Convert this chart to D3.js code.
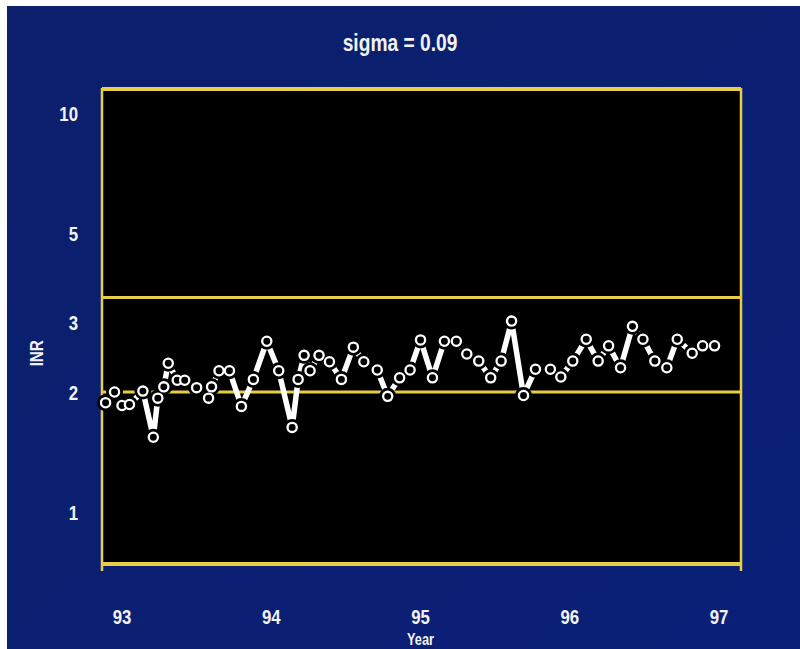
<!DOCTYPE html>
<html>
<head>
<meta charset="utf-8">
<script src="https://cdn.jsdelivr.net/npm/d3@7"></script>
<style>
  html, body { margin: 0; padding: 0; background: #ffffff; }
  svg { display: block; }
  text { font-family: "Liberation Sans", Arial, sans-serif; font-weight: bold; fill: #f2f2f2; }
</style>
</head>
<body>
<svg width="800" height="649"></svg>
<script>
// INR measurements over time (year, value)
var years = [92.89, 92.95, 93.00, 93.05, 93.14, 93.21, 93.24, 93.28, 93.31, 93.37,
  93.42, 93.50, 93.58, 93.60, 93.65, 93.72, 93.80, 93.88, 93.97, 94.05,
  94.14, 94.18, 94.22, 94.26, 94.32, 94.39, 94.47, 94.55, 94.62, 94.71,
  94.78, 94.86, 94.93, 95.00, 95.08, 95.16, 95.24, 95.31, 95.39, 95.47,
  95.54, 95.61, 95.69, 95.77, 95.87, 95.94, 96.02, 96.11, 96.19, 96.26,
  96.34, 96.42, 96.49, 96.57, 96.65, 96.72, 96.82, 96.89, 96.97];
var inr = [1.88, 2.00, 1.85, 1.86, 2.01, 1.54, 1.93, 2.06, 2.36, 2.14,
  2.14, 2.05, 1.93, 2.06, 2.26, 2.26, 1.84, 2.15, 2.68, 2.26,
  1.63, 2.15, 2.47, 2.26, 2.47, 2.38, 2.15, 2.59, 2.38, 2.27,
  1.95, 2.17, 2.27, 2.70, 2.17, 2.68, 2.68, 2.49, 2.39, 2.17,
  2.39, 3.01, 1.96, 2.28, 2.28, 2.18, 2.39, 2.71, 2.39, 2.61,
  2.30, 2.92, 2.71, 2.39, 2.30, 2.71, 2.50, 2.61, 2.61];

var controlLimits = [3.45, 2.0];
var yTicks = [1, 2, 3, 5, 10];
var xTicks = [93, 94, 95, 96, 97];
var xTickLabels = ["93", "94", "95", "96", "97"];
var title = "sigma = 0.09";

var svg = d3.select("svg"),
  width = +svg.attr("width"),
  height = +svg.attr("height");

var x = d3.scaleLinear().domain([92.866, 97.147]).range([102, 741]);
var y = d3.scaleLog().domain([0.737, 11.55]).range([565, 88]);

var yellow = "#e6cf45";
var narrow = 0.8; // the slide font is a condensed one

// text helper: squeeze horizontally around the anchor point
function label(g, tx, ty, str, size, anchor) {
  return g.append("g")
    .attr("transform", "translate(" + tx + "," + ty + ") scale(" + narrow + ",1)")
    .append("text")
    .attr("text-anchor", anchor || "middle")
    .style("font-size", size + "px")
    .text(str);
}

// blue slide background (with the little white scan border top/left)
svg.append("rect").attr("width", width).attr("height", height).attr("fill", "#ffffff");
var bg = svg.append("defs").append("linearGradient")
  .attr("id", "bg").attr("x1", 0).attr("y1", 0).attr("x2", 1).attr("y2", 1);
bg.append("stop").attr("offset", "0%").attr("stop-color", "#0c1f6c");
bg.append("stop").attr("offset", "100%").attr("stop-color", "#0a1f78");
svg.append("rect")
  .attr("x", 7).attr("y", 6)
  .attr("width", width - 7).attr("height", height - 6)
  .attr("fill", "url(#bg)");

// plot area
var x0 = x.range()[0], x1 = x.range()[1];
var yTop = y.range()[1], yBot = y.range()[0];

svg.append("rect")
  .attr("x", x0).attr("y", yTop)
  .attr("width", x1 - x0).attr("height", yBot - yTop)
  .attr("fill", "#000000");

// frame
var frame = svg.append("g").attr("stroke", yellow).attr("fill", "none");
frame.append("line").attr("x1", x0).attr("x2", x1).attr("y1", yTop + 1).attr("y2", yTop + 1).attr("stroke-width", 4);
frame.append("line").attr("x1", x0).attr("x2", x1).attr("y1", yBot - 1).attr("y2", yBot - 1).attr("stroke-width", 4);
frame.append("line").attr("x1", x0).attr("x2", x0).attr("y1", yTop).attr("y2", yBot + 6).attr("stroke-width", 2.5);
frame.append("line").attr("x1", x1).attr("x2", x1).attr("y1", yTop).attr("y2", yBot + 6).attr("stroke-width", 2.5);

// control limit lines
svg.append("g")
  .selectAll("line")
  .data(controlLimits)
  .enter().append("line")
  .attr("x1", x0).attr("x2", x1)
  .attr("y1", function (d) { return y(d); })
  .attr("y2", function (d) { return y(d); })
  .attr("stroke", yellow)
  .attr("stroke-width", 3);

// y axis labels
var yLabels = svg.append("g");
yTicks.forEach(function (d) {
  label(yLabels, 78, y(d) + 8, d, 21, "end");
});

// x axis labels
var xLabels = svg.append("g");
xTicks.forEach(function (d, i) {
  label(xLabels, x(d), 624, xTickLabels[i], 21);
});

label(svg, x(95), 645, "Year", 16);

svg.append("g")
  .attr("transform", "translate(43," + y(2.5) + ") rotate(-90) scale(" + narrow + ",1)")
  .append("text")
  .attr("text-anchor", "middle")
  .style("font-size", "19px")
  .text("INR");

label(svg, 400, 51, title, 24);

// series
var points = years.map(function (d, i) {
  return { year: d, value: inr[i] };
});

var line = d3.line()
  .x(function (d) { return x(d.year); })
  .y(function (d) { return y(d.value); });

svg.append("path")
  .datum(points)
  .attr("d", line)
  .attr("fill", "none")
  .attr("stroke", "#ffffff")
  .attr("stroke-width", 5.5)
  .attr("stroke-linejoin", "round");

// black halos so the line breaks around each marker
svg.append("g")
  .selectAll("circle")
  .data(points)
  .enter().append("circle")
  .attr("cx", function (d) { return x(d.year); })
  .attr("cy", function (d) { return y(d.value); })
  .attr("r", 8.5)
  .attr("fill", "#000000");

svg.append("g")
  .selectAll("circle")
  .data(points)
  .enter().append("circle")
  .attr("cx", function (d) { return x(d.year); })
  .attr("cy", function (d) { return y(d.value); })
  .attr("r", 4.6)
  .attr("fill", "#000000")
  .attr("stroke", "#ffffff")
  .attr("stroke-width", 2.3);
</script>
</body>
</html>
